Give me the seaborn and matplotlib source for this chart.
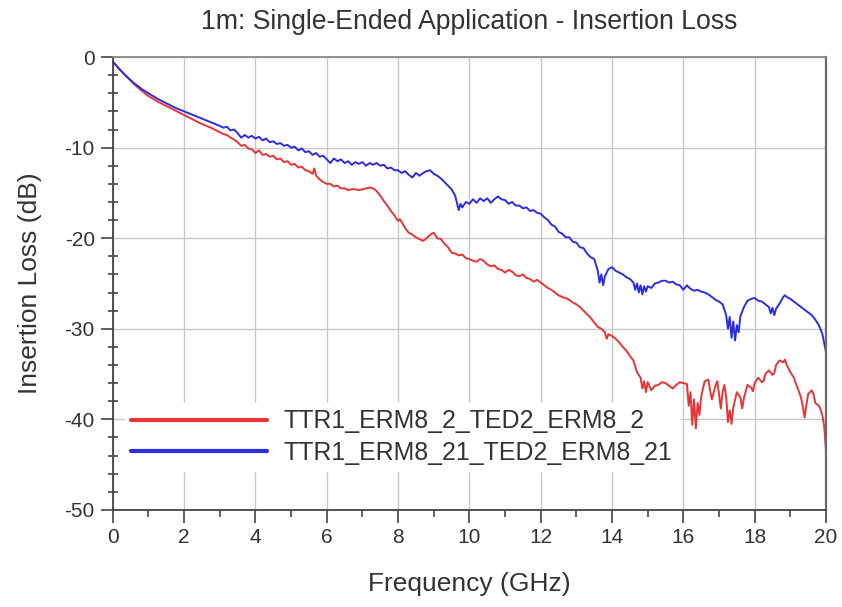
import numpy as np
import pandas as pd
import matplotlib
matplotlib.use("Agg")
import matplotlib.pyplot as plt
from matplotlib.ticker import MultipleLocator
import seaborn as sns

title = "1m: Single-Ended Application - Insertion Loss"
x_label = "Frequency (GHz)"
y_label = "Insertion Loss (dB)"
series_names = ["TTR1_ERM8_2_TED2_ERM8_2", "TTR1_ERM8_21_TED2_ERM8_21"]
series_colors = ["#e83434", "#2c2ce2"]

freq_red = [0.0, 0.2, 0.4, 0.6, 0.8, 1.0, 1.25, 1.5, 1.75, 2.0, 2.25, 2.5, 2.75,
            3.0, 3.1, 3.2, 3.3, 3.4, 3.5, 3.6, 3.7, 3.8, 3.9,
            4.0, 4.1, 4.2, 4.3, 4.4, 4.5, 4.6, 4.7, 4.8, 4.9,
            5.0, 5.1, 5.2, 5.3, 5.4, 5.5, 5.6, 5.65, 5.7, 5.8, 5.9,
            6.0, 6.1, 6.2, 6.3, 6.4, 6.5, 6.6, 6.7, 6.8, 6.9,
            7.0, 7.1, 7.2, 7.3, 7.4, 7.5, 7.6, 7.7, 7.8, 7.9,
            8.0, 8.05, 8.1, 8.2, 8.3, 8.4, 8.5, 8.6, 8.7, 8.8, 8.9,
            9.0, 9.1, 9.2, 9.3, 9.4, 9.5, 9.6, 9.7, 9.8, 9.9,
            10.0, 10.1, 10.2, 10.3, 10.4, 10.5, 10.6, 10.7, 10.8, 10.9,
            11.0, 11.1, 11.2, 11.3, 11.4, 11.5, 11.6, 11.7, 11.8, 11.9,
            12.0, 12.1, 12.2, 12.3, 12.4, 12.5, 12.6, 12.7, 12.8, 12.9,
            13.0, 13.1, 13.2, 13.3, 13.4, 13.5, 13.6, 13.7, 13.8, 13.85, 13.9,
            14.0, 14.1, 14.2, 14.3, 14.4, 14.5, 14.6, 14.7, 14.8, 14.85, 14.9, 14.95,
            15.0, 15.1, 15.2, 15.3, 15.4, 15.5, 15.6, 15.7, 15.8, 15.9,
            16.0, 16.1, 16.15, 16.2, 16.25, 16.3, 16.35, 16.4, 16.45, 16.5, 16.55, 16.6, 16.7, 16.75, 16.8, 16.9, 16.95,
            17.0, 17.05, 17.1, 17.15, 17.2, 17.25, 17.3, 17.35, 17.4, 17.5, 17.6, 17.65, 17.7, 17.8, 17.9, 17.95,
            18.0, 18.1, 18.2, 18.25, 18.3, 18.4, 18.5, 18.55, 18.6, 18.7, 18.8, 18.85, 18.9,
            19.0, 19.1, 19.15, 19.2, 19.3, 19.35, 19.4, 19.45, 19.5, 19.6, 19.65, 19.7, 19.8, 19.85, 19.9, 19.95, 20.0]
loss_red = [-0.5, -1.4, -2.2, -3.0, -3.7, -4.3, -4.9, -5.4, -5.9, -6.4, -6.9, -7.4, -7.8,
            -8.3, -8.5, -8.6, -8.9, -9.1, -9.4, -9.8, -9.7, -10.1, -10.2,
            -10.6, -10.3, -10.8, -10.7, -11.0, -10.9, -11.3, -11.2, -11.6, -11.5,
            -11.9, -11.8, -12.2, -12.1, -12.5, -12.6, -12.9, -12.3, -13.1, -13.5, -13.8,
            -14.0, -14.0, -14.3, -14.2, -14.5, -14.5, -14.7, -14.6, -14.6, -14.7,
            -14.6, -14.5, -14.4, -14.5, -14.8, -15.3, -15.9, -16.4, -17.0, -17.5,
            -18.1, -17.9, -18.2, -18.9, -19.4, -19.6, -19.9, -20.1, -20.3, -20.0, -19.6,
            -19.4, -20.0, -20.1, -20.6, -21.0, -21.6, -21.7, -21.9, -21.8, -22.2,
            -22.3, -22.5, -22.6, -22.3, -22.5, -22.9, -23.1, -23.0, -23.4, -23.5,
            -23.8, -23.5, -23.7, -24.1, -24.2, -24.0, -24.4, -24.5, -24.8, -24.6,
            -24.9, -25.2, -25.5, -25.7, -26.0, -26.3, -26.5, -26.6, -26.8, -27.1,
            -27.3, -27.6, -28.0, -28.4, -28.8, -29.3, -29.8, -30.0, -30.4, -31.1, -30.6,
            -30.8, -31.1, -31.5, -32.0, -32.4, -33.0, -33.5, -34.8, -35.4, -36.6, -35.8, -37.0,
            -35.9, -36.8, -36.3, -36.2, -35.9, -36.0, -36.3, -36.6, -36.2, -35.9,
            -36.0, -36.1, -38.5, -37.0, -40.6, -37.8, -41.0, -38.2, -39.5, -37.5, -36.6, -35.8, -35.6, -36.8, -37.8, -36.3, -35.8,
            -37.2, -38.8, -37.0, -36.2, -37.5, -40.3, -39.0, -40.5, -38.7, -37.0, -37.6, -38.8, -37.6, -36.2, -36.5, -36.9,
            -36.0, -35.4, -35.9, -35.8, -35.0, -34.6, -35.1, -34.9, -34.0, -33.5, -33.7, -33.4, -34.0,
            -34.8, -35.4, -36.0, -36.5, -37.6, -38.6, -39.8, -38.4, -37.2, -36.8, -37.2, -38.2, -38.5, -38.9, -39.6, -40.8, -43.5]

freq_blue = [0.0, 0.2, 0.4, 0.6, 0.8, 1.0, 1.25, 1.5, 1.75, 2.0, 2.25, 2.5, 2.75,
             3.0, 3.1, 3.2, 3.3, 3.4, 3.5, 3.6, 3.7, 3.8, 3.9,
             4.0, 4.1, 4.2, 4.3, 4.4, 4.5, 4.6, 4.7, 4.8, 4.9,
             5.0, 5.1, 5.2, 5.3, 5.4, 5.5, 5.6, 5.7, 5.8, 5.9,
             6.0, 6.1, 6.2, 6.3, 6.4, 6.5, 6.6, 6.7, 6.8, 6.9,
             7.0, 7.1, 7.2, 7.3, 7.4, 7.5, 7.6, 7.7, 7.8, 7.9,
             8.0, 8.1, 8.2, 8.3, 8.4, 8.5, 8.6, 8.7, 8.8, 8.9,
             9.0, 9.1, 9.2, 9.3, 9.4, 9.5, 9.6, 9.7, 9.75, 9.8, 9.9,
             10.0, 10.1, 10.2, 10.3, 10.4, 10.5, 10.6, 10.7, 10.8, 10.9,
             11.0, 11.1, 11.2, 11.3, 11.4, 11.5, 11.6, 11.7, 11.8, 11.9,
             12.0, 12.1, 12.2, 12.3, 12.4, 12.5, 12.6, 12.7, 12.8, 12.9,
             13.0, 13.1, 13.2, 13.3, 13.4, 13.5, 13.6, 13.65, 13.7, 13.75, 13.8, 13.9,
             14.0, 14.1, 14.2, 14.3, 14.4, 14.5, 14.6, 14.65, 14.7, 14.75, 14.8, 14.85, 14.9, 14.95,
             15.0, 15.1, 15.2, 15.3, 15.4, 15.5, 15.6, 15.7, 15.8, 15.9,
             16.0, 16.1, 16.2, 16.3, 16.4, 16.5, 16.6, 16.7, 16.8, 16.9,
             17.0, 17.1, 17.2, 17.25, 17.3, 17.35, 17.4, 17.45, 17.5, 17.55, 17.6, 17.7, 17.8, 17.9,
             18.0, 18.1, 18.2, 18.3, 18.4, 18.45, 18.5, 18.55, 18.6, 18.7, 18.8, 18.85, 18.9,
             19.0, 19.1, 19.2, 19.3, 19.4, 19.5, 19.6, 19.7, 19.8, 19.9, 20.0]
loss_blue = [-0.5, -1.4, -2.2, -2.9, -3.5, -4.0, -4.6, -5.1, -5.6, -6.0, -6.4, -6.8, -7.2,
             -7.6, -7.8, -7.7, -8.1, -8.0, -8.4, -8.9, -8.6, -8.9, -8.7,
             -9.0, -8.8, -9.2, -9.0, -9.4, -9.3, -9.6, -9.5, -9.8, -9.7,
             -10.0, -9.9, -10.3, -10.1, -10.5, -10.4, -10.8, -10.6, -11.0, -10.9,
             -11.3, -11.7, -11.2, -11.5, -11.3, -11.7, -11.5, -11.9, -11.6, -11.8,
             -11.6, -12.0, -11.7, -11.9, -11.7, -12.0, -11.9, -12.3, -12.2, -12.5,
             -12.5, -12.8, -12.6, -13.0, -13.3, -12.8, -13.1, -12.8, -12.6, -12.5,
             -12.9, -13.1, -13.4, -13.8, -14.2, -14.6, -15.3, -16.9, -16.2, -16.6, -16.0,
             -16.2, -15.7, -16.1, -15.6, -15.9, -15.6, -16.1, -15.7, -15.4, -15.7,
             -15.8, -16.2, -16.0, -16.4, -16.4, -16.7, -16.6, -17.0, -16.9, -17.2,
             -17.3, -17.7, -18.0, -18.5, -18.7, -19.3, -19.5, -19.9, -19.9, -20.4,
             -20.5, -21.0, -21.1, -21.7, -22.1, -22.3, -23.6, -24.9, -24.0, -25.2, -24.2, -23.4,
             -23.2, -23.6, -23.8, -24.0, -24.3, -24.5, -24.9, -25.7, -25.0, -26.0, -25.2, -26.2, -25.3, -25.9,
             -25.3, -25.5, -25.0, -24.9, -24.7, -24.7, -24.9, -24.8, -25.1, -25.2,
             -25.7, -25.2, -25.6, -25.8, -25.7, -25.9, -26.0, -26.2, -26.5, -26.8,
             -27.0, -27.3, -28.5, -30.0, -28.7, -31.0, -29.2, -31.3, -29.6, -30.4, -28.6, -27.6, -26.9, -26.7,
             -26.6, -26.9, -27.0, -27.3, -27.6, -28.3, -27.7, -28.5, -27.8, -27.2, -26.5, -26.3, -26.5,
             -26.7, -27.0, -27.3, -27.6, -27.9, -28.2, -28.5, -29.0, -29.6, -30.6, -32.6]

x_ticks = [0, 2, 4, 6, 8, 10, 12, 14, 16, 18, 20]
y_ticks = [-50, -40, -30, -20, -10, 0]

df = pd.concat([
    pd.DataFrame({"freq": freq_red, "loss": loss_red, "series": series_names[0]}),
    pd.DataFrame({"freq": freq_blue, "loss": loss_blue, "series": series_names[1]}),
], ignore_index=True)

sns.set_theme(style="white")
plt.rcParams["font.family"] = ["Liberation Sans", "DejaVu Sans"]
plt.rcParams["axes.unicode_minus"] = False

fig = plt.figure(figsize=(8.42, 6.07), dpi=100)
ax = fig.add_axes([0.134, 0.160, 0.847, 0.746])

sns.lineplot(data=df, x="freq", y="loss", hue="series", palette=series_colors,
             estimator=None, sort=False, linewidth=1.4, ax=ax)

ax.set_xlim(0, 20)
ax.set_ylim(-50, 0)
ax.set_xticks(x_ticks)
ax.set_yticks(y_ticks)
ax.xaxis.set_minor_locator(MultipleLocator(1))
ax.yaxis.set_minor_locator(MultipleLocator(2))
ax.grid(True, which="major", color="#c8c8c8", linewidth=1.0)
ax.set_axisbelow(True)

ax.tick_params(axis="both", which="major", direction="out", length=9, width=1.2,
               color="#444444", labelsize=15, labelcolor="#333333", pad=4)
ax.tick_params(axis="x", which="minor", direction="out", length=5, width=1.2, color="#444444")
ax.tick_params(axis="y", which="minor", direction="inout", length=7, width=1.2, color="#444444")
ax.tick_params(bottom=True, left=True, which="both")

for side in ["left", "bottom"]:
    ax.spines[side].set_color("#444444")
    ax.spines[side].set_linewidth(1.3)
ax.spines["top"].set_color("#8a8a8a")
ax.spines["top"].set_linewidth(1.3)
ax.spines["right"].set_color("#6a6a6a")
ax.spines["right"].set_linewidth(1.6)

ax.set_xlabel(x_label, fontsize=19, color="#333333", labelpad=18)
ax.set_ylabel(y_label, fontsize=19, color="#333333", labelpad=16)
ax.set_title(title, fontsize=19.2, color="#333333", pad=20)

leg = ax.legend(loc="upper left", bbox_to_anchor=(0.017, 0.236), borderaxespad=0,
                fontsize=17.9, handlelength=5.45, handletextpad=0.68, labelspacing=0.32,
                frameon=True, fancybox=False, framealpha=1.0, borderpad=0.25)
leg.get_frame().set_edgecolor("white")
leg.get_frame().set_facecolor("white")
for h in leg.get_lines():
    h.set_linewidth(3)
for t in leg.get_texts():
    t.set_color("#333333")

fig.savefig("out.png", dpi=100)
